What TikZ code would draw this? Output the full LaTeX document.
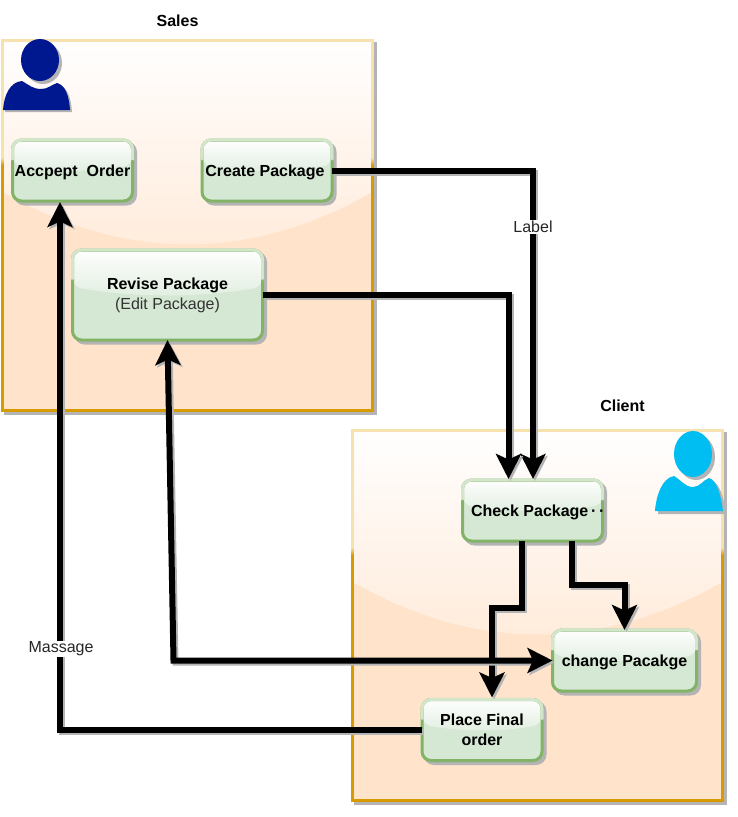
\documentclass[tikz,border=0pt]{standalone}
\usepackage{fontspec}
\setmainfont{Liberation Sans}
\usetikzlibrary{arrows.meta,calc,fadings,shapes.geometric}
\definecolor{boxfill}{HTML}{D5E8D4}
\definecolor{boxline}{HTML}{82B366}
\definecolor{boxlinetop}{HTML}{D3E6CB}
\definecolor{panelfill}{HTML}{FFE3CB}
\definecolor{panelline}{HTML}{D79B00}
\definecolor{panellinetop}{HTML}{F6E2AE}
\definecolor{salesblue}{HTML}{00188F}
\definecolor{clientblue}{HTML}{00BEF2}
\definecolor{shadowgrey}{HTML}{B4B4B4}
\pgfdeclareverticalshading{topmaskshade}{100bp}{color(0bp)=(black); color(58bp)=(black); color(59bp)=(white); color(100bp)=(white)}
\pgfdeclarefading{topmask}{\pgfuseshading{topmaskshade}}
\tikzfading[name=glassfade, top color=transparent!0, bottom color=transparent!72]
\tikzset{
  x=1pt, y=-1pt,
  glasspic/.style={path picture={
    \coordinate (gNW) at (path picture bounding box.north west);
    \coordinate (gNE) at (path picture bounding box.north east);
    \coordinate (gSW) at (path picture bounding box.south west);
    \coordinate (gSE) at (path picture bounding box.south east);
    \coordinate (gT1) at ($(gNW)!0.33!(gNE)$);
    \coordinate (gB1) at ($(gSW)!0.33!(gSE)$);
    \coordinate (gT2) at ($(gNW)!0.67!(gNE)$);
    \coordinate (gB2) at ($(gSW)!0.67!(gSE)$);
    \fill[white, path fading=glassfade]
      (gNW) -- (gNE) -- ($(gNE)!0.41!(gSE)$)
      .. controls ($(gT2)!#1!(gB2)$) and ($(gT1)!#1!(gB1)$)
      .. ($(gNW)!0.41!(gSW)$) -- cycle;
  }},
  cast/.style={preaction={draw=shadowgrey, fill=shadowgrey, transform canvas={shift={(3pt,-3pt)}}}},
  panel/.style={rectangle, draw=panelline, fill=panelfill, line width=3pt, inner sep=0pt, outer sep=0pt,
    minimum width=370pt, minimum height=370pt, cast, glasspic=0.60,
    postaction={draw=panellinetop, line width=3pt, path fading=topmask}},
  boxnode/.style={rectangle, rounded corners=9pt, draw=boxline, fill=boxfill, line width=3pt,
    inner sep=0pt, outer sep=0pt, minimum height=61pt, cast, glasspic=0.53,
    align=center, font=\fontsize{16}{20}\selectfont\bfseries, text=black,
    execute at begin node={\rule{0pt}{15pt}},
    postaction={draw=boxlinetop, line width=3pt, path fading=topmask}},
  tworows/.style={execute at begin node={\rule{0pt}{18pt}}},
  conn/.style={draw=black, line width=6pt, miter limit=10,
    preaction={draw=shadowgrey, line width=6pt, transform canvas={shift={(2pt,-2pt)}}}},
  tip/.style={-{Stealth[length=25pt,width=25pt,inset=5.5pt]}},
  bothtip/.style={{Stealth[length=25pt,width=25pt,inset=5.5pt]}-{Stealth[length=25pt,width=25pt,inset=5.5pt]}},
  lab/.style={fill=white, inner sep=1pt, font=\fontsize{16}{20}\selectfont, text=black!85},
  title/.style={font=\fontsize{16}{20}\selectfont\bfseries, text=black},
}
\begin{document}
\begin{tikzpicture}
\useasboundingbox (0,0) rectangle (737,817);
% panels
\node[panel] (sales) at (187.5,225) {};
\node[panel] (client) at (537.5,615) {};
\node[title] (salesT) at (177.5,21) {Sales};
\node[title] (clientT) at (622.5,406) {Client};
% people
\fill[shadowgrey] (43,63) ellipse [x radius=19, y radius=21];
\fill[shadowgrey] (5,112) .. controls (6,97) and (12,84) .. (24,83) .. controls (31,87) and (35,91) .. (43,91) .. controls (50,91) and (53,87) .. (59,85) .. controls (67,87) and (71,97) .. (72,112) -- cycle;
\fill[salesblue] (40,60) ellipse [x radius=19, y radius=21];
\fill[salesblue] (3,110) .. controls (4,95) and (10,82) .. (22,81) .. controls (29,85) and (33,89) .. (41,89) .. controls (48,89) and (51,85) .. (57,83) .. controls (65,85) and (69,95) .. (70,110) -- cycle;
\fill[shadowgrey] (696,457) ellipse [x radius=19, y radius=23];
\fill[shadowgrey] (658,514) .. controls (659,499) and (665,481) .. (677,479) .. controls (684,483) and (688,490) .. (696,490) .. controls (703,490) and (706,483) .. (712,481) .. controls (720,483) and (724,499) .. (726,514) -- cycle;
\fill[clientblue] (693,454) ellipse [x radius=19, y radius=23];
\fill[clientblue] (655,511) .. controls (656,496) and (662,478) .. (674,476) .. controls (681,480) and (685,487) .. (693,487) .. controls (700,487) and (703,480) .. (709,478) .. controls (717,480) and (721,496) .. (723,511) -- cycle;
% boxes
\node[boxnode, minimum width=120pt] (accept) at (72.5,170.5) {Accpept\ \ Order};
\node[boxnode, minimum width=130pt] (create) at (267,170.5) {Create Package\hspace*{4pt}};
\node[boxnode, tworows, minimum width=190pt, minimum height=90pt] (revise) at (167.5,295) {Revise Package\\[0pt]{\mdseries\color{black!80}(Edit Package)}};
\node[boxnode, minimum width=140pt] (check) at (532.5,510.5) {\makebox[130pt][l]{\hspace*{3.5pt}Check Package\,·\,·}};
\node[boxnode, minimum width=144pt] (change) at (624.5,660.5) {change Pacakge};
\node[boxnode, tworows, minimum width=120pt] (place) at (482,730) {Place Final\\order};
% connector ends
\coordinate (checkL) at ($(check.north)+(-24,-1)$);
\coordinate (checkR) at ($(check.north)+(0.5,-1)$);
\coordinate (checkA) at ($(check.south)+(-10.5,0)$);
\coordinate (checkB) at ($(check.south)+(39.5,0)$);
\coordinate (placeIn) at ($(place.north)+(10,-2)$);
\coordinate (acceptIn) at ($(accept.south)+(-12.5,1)$);
% connectors
\draw[conn, tip] (create.east) -- (checkR |- create.east) -- (checkR);
\draw[conn, tip] (revise.east) -- (checkL |- revise.east) -- (checkL);
\draw[conn, tip] (checkA) -- ($(checkA)+(0,67)$) -- ($(placeIn |- checkA)+(0,67)$) -- (placeIn);
\draw[conn, tip] (checkB) -- ($(checkB)+(0,44)$) -- ($(change.north |- checkB)+(0,44)$) -- (change.north);
\coordinate (bend) at ($(change.west)+(-379,0)$);
\draw[conn, bothtip] (revise.south) -- (bend) -- (change.west);
\draw[conn, tip] (place.west) -- (acceptIn |- place.west) -- (acceptIn);
% labels
\node[lab] (labelA) at (533,227) {Label};
\node[lab] (labelB) at (61,649) {Massage};
\end{tikzpicture}
\end{document}
